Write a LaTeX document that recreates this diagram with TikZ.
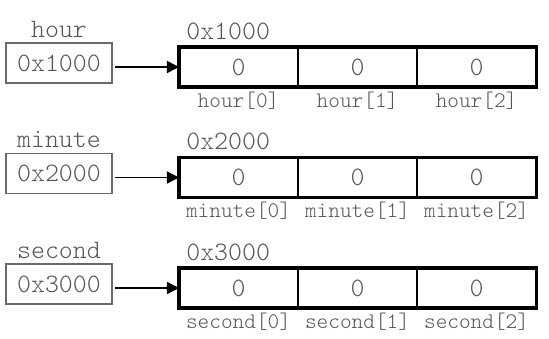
\documentclass[tikz,border=0pt]{standalone}
\usepackage{fontspec}
\setmainfont{Latin Modern Mono Light}
\usetikzlibrary{positioning, arrows.meta}
\definecolor{txtgray}{HTML}{555555}
\definecolor{boxgray}{HTML}{6A6A6A}

\begin{document}
\begin{tikzpicture}
  [
    x=0.025cm, y=-0.025cm,
    % estilos de las cajas y etiquetas
    ptrbox/.style={draw=boxgray, line width=0.9pt, minimum width=2.65cm, minimum height=1cm,
      inner sep=0pt, outer sep=0pt, text=txtgray, font=\fontsize{18.9}{20}\selectfont},
    cell/.style={draw, line width=0.8pt, minimum width=2.975cm, minimum height=1cm,
      inner sep=0pt, outer sep=0pt, text=txtgray, font=\fontsize{18.9}{20}\selectfont},
    lbl/.style={inner sep=1pt, text=txtgray, font=\fontsize{18.9}{20}\selectfont},
    idx/.style={inner sep=1pt, text=txtgray, font=\fontsize{15.8}{17}\selectfont},
    frame/.style={draw, line width=2.2pt},
    ptr/.style={-{Triangle[length=0.3cm, width=0.3cm]}, line width=1.1pt, shorten <=2pt}
  ]
  \useasboundingbox (0,0) rectangle (549,338);

  % hour
  \node[ptrbox] (hp) at (59,63) {0x1000};
  \node[lbl, above=0.1cm of hp] (hn) {hour};
  \node[cell, anchor=west] (h0) at (179,67) {0};
  \node[cell, right=0pt of h0] (h1) {0};
  \node[cell, right=0pt of h1] (h2) {0};
  \draw[frame] (h0.north west) rectangle (h2.south east);
  \node[lbl, anchor=south west] (ha) at ([xshift=4pt, yshift=4pt]h0.north west) {0x1000};
  \node[idx, below=0.08cm of h0] (hi0) {hour[0]};
  \node[idx, below=0.08cm of h1] (hi1) {hour[1]};
  \node[idx, below=0.08cm of h2] (hi2) {hour[2]};
  \draw[ptr] (hp.east |- h0.west) -- (h0.west);

  % minute
  \node[ptrbox] (mp) at (59,173.5) {0x2000};
  \node[lbl, above=0.1cm of mp] (mn) {minute};
  \node[cell, anchor=west] (m0) at (179,177.5) {0};
  \node[cell, right=0pt of m0] (m1) {0};
  \node[cell, right=0pt of m1] (m2) {0};
  \draw[frame] (m0.north west) rectangle (m2.south east);
  \node[lbl, anchor=south west] (ma) at ([xshift=4pt, yshift=4pt]m0.north west) {0x2000};
  \node[idx, below=0.08cm of m0] (mi0) {minute[0]};
  \node[idx, below=0.08cm of m1] (mi1) {minute[1]};
  \node[idx, below=0.08cm of m2] (mi2) {minute[2]};
  \draw[ptr] (mp.east |- m0.west) -- (m0.west);

  % second
  \node[ptrbox] (sp) at (59,284) {0x3000};
  \node[lbl, above=0.1cm of sp] (sn) {second};
  \node[cell, anchor=west] (s0) at (179,288) {0};
  \node[cell, right=0pt of s0] (s1) {0};
  \node[cell, right=0pt of s1] (s2) {0};
  \draw[frame] (s0.north west) rectangle (s2.south east);
  \node[lbl, anchor=south west] (sa) at ([xshift=4pt, yshift=4pt]s0.north west) {0x3000};
  \node[idx, below=0.08cm of s0] (si0) {second[0]};
  \node[idx, below=0.08cm of s1] (si1) {second[1]};
  \node[idx, below=0.08cm of s2] (si2) {second[2]};
  \draw[ptr] (sp.east |- s0.west) -- (s0.west);
\end{tikzpicture}
\end{document}
